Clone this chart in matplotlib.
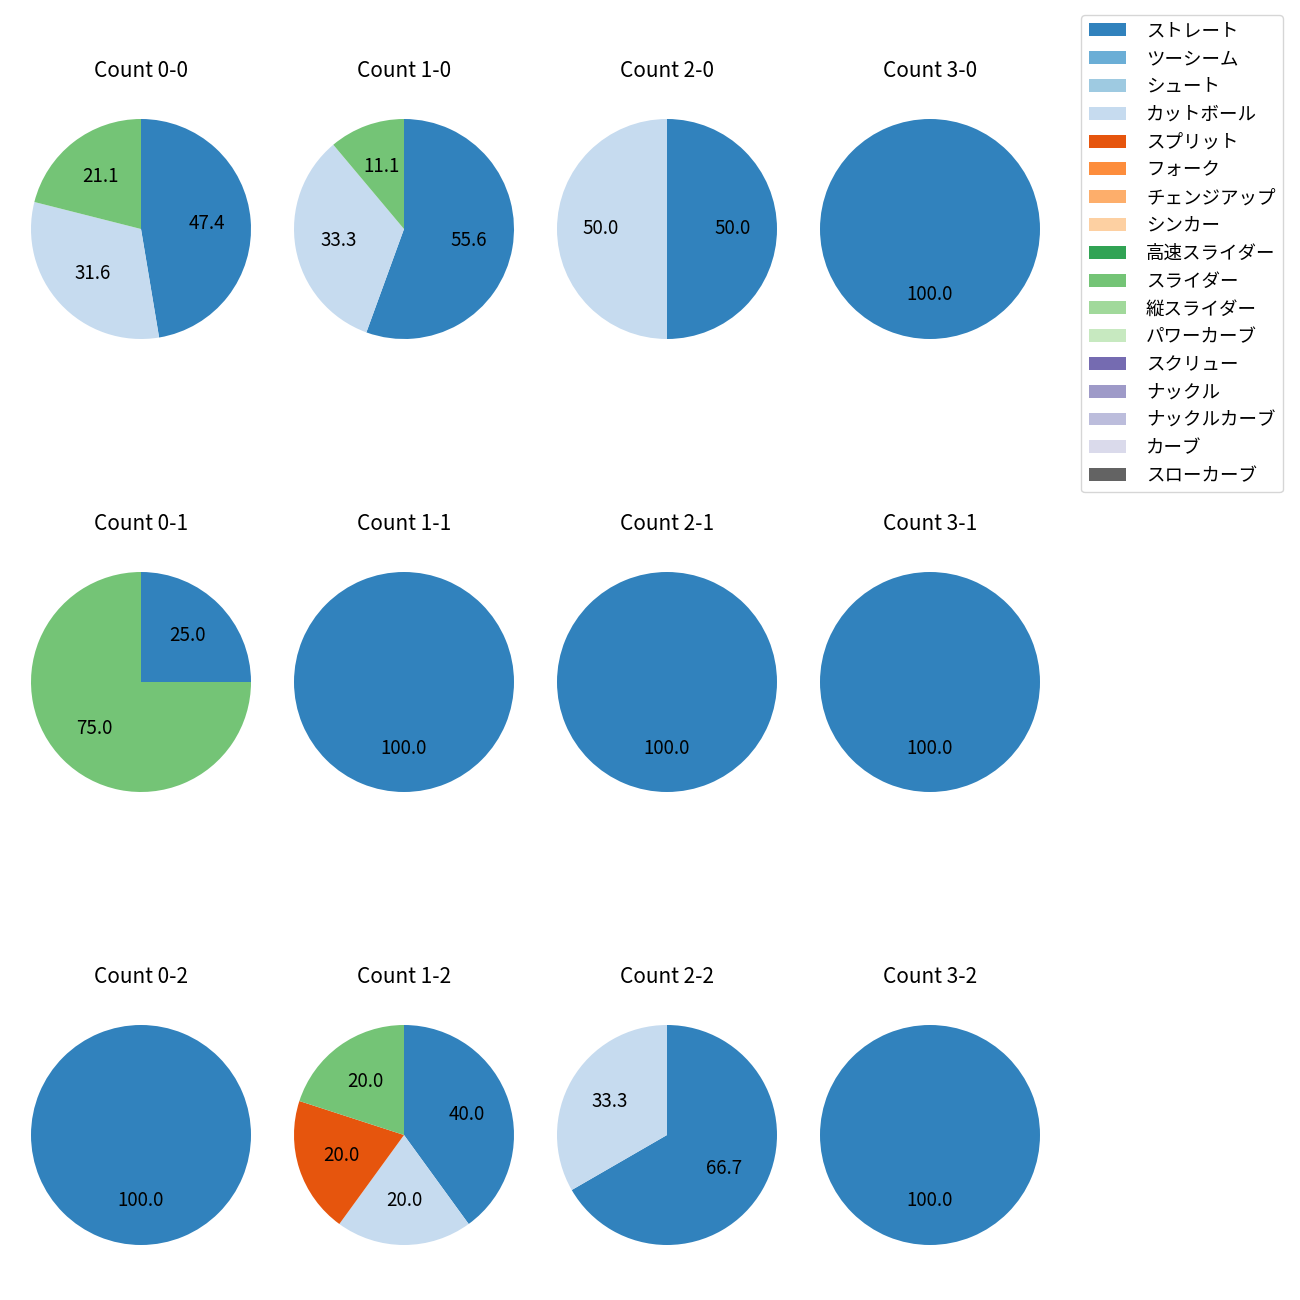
import matplotlib
matplotlib.use("Agg")
import matplotlib.pyplot as plt
from matplotlib.patches import Patch

plt.rcParams['font.family'] = ['Noto Sans CJK JP', 'DejaVu Sans']

pitch_types = ["ストレート", "ツーシーム", "シュート", "カットボール", "スプリット", "フォーク",
               "チェンジアップ", "シンカー", "高速スライダー", "スライダー", "縦スライダー",
               "パワーカーブ", "スクリュー", "ナックル", "ナックルカーブ", "カーブ", "スローカーブ"]
pitch_colors = ["#3182bd", "#6baed6", "#9ecae1", "#c6dbef", "#e6550d", "#fd8d3c",
                "#fdae6b", "#fdd0a2", "#31a354", "#74c476", "#a1d99b", "#c7e9c0",
                "#756bb1", "#9e9ac8", "#bcbddc", "#dadaeb", "#636363"]

# counts per pitch type, in pitch_types order
count_labels = [["0-0", "1-0", "2-0", "3-0"],
                ["0-1", "1-1", "2-1", "3-1"],
                ["0-2", "1-2", "2-2", "3-2"]]
c_0_0 = [9, 0, 0, 6, 0, 0, 0, 0, 0, 4, 0, 0, 0, 0, 0, 0, 0]
c_1_0 = [5, 0, 0, 3, 0, 0, 0, 0, 0, 1, 0, 0, 0, 0, 0, 0, 0]
c_2_0 = [1, 0, 0, 1, 0, 0, 0, 0, 0, 0, 0, 0, 0, 0, 0, 0, 0]
c_3_0 = [1, 0, 0, 0, 0, 0, 0, 0, 0, 0, 0, 0, 0, 0, 0, 0, 0]
c_0_1 = [1, 0, 0, 0, 0, 0, 0, 0, 0, 3, 0, 0, 0, 0, 0, 0, 0]
c_1_1 = [1, 0, 0, 0, 0, 0, 0, 0, 0, 0, 0, 0, 0, 0, 0, 0, 0]
c_2_1 = [1, 0, 0, 0, 0, 0, 0, 0, 0, 0, 0, 0, 0, 0, 0, 0, 0]
c_3_1 = [1, 0, 0, 0, 0, 0, 0, 0, 0, 0, 0, 0, 0, 0, 0, 0, 0]
c_0_2 = [1, 0, 0, 0, 0, 0, 0, 0, 0, 0, 0, 0, 0, 0, 0, 0, 0]
c_1_2 = [2, 0, 0, 1, 1, 0, 0, 0, 0, 1, 0, 0, 0, 0, 0, 0, 0]
c_2_2 = [2, 0, 0, 1, 0, 0, 0, 0, 0, 0, 0, 0, 0, 0, 0, 0, 0]
c_3_2 = [1, 0, 0, 0, 0, 0, 0, 0, 0, 0, 0, 0, 0, 0, 0, 0, 0]
count_values = [[c_0_0, c_1_0, c_2_0, c_3_0],
                [c_0_1, c_1_1, c_2_1, c_3_1],
                [c_0_2, c_1_2, c_2_2, c_3_2]]

W = H = 1300
fig = plt.figure(figsize=(13, 13), dpi=100)
side = 275
for i in range(3):
    for j in range(4):
        cx = 141 + 263 * j
        cy = 229 + 453 * i
        ax = fig.add_axes([(cx - side / 2) / W, 1 - (cy + side / 2) / H, side / W, side / H])
        vals = count_values[i][j]
        v = [x for x in vals if x > 0]
        c = [pitch_colors[k] for k, x in enumerate(vals) if x > 0]
        ax.pie(v, colors=c, startangle=90, counterclock=False, autopct='%.1f',
               textprops={'fontsize': 13.5})
        ax.set_title(f"Count {count_labels[i][j]}", fontsize=15, pad=10.5)

handles = [Patch(facecolor=col, label=lab) for col, lab in zip(pitch_colors, pitch_types)]
fig.legend(handles=handles, loc='upper right', bbox_to_anchor=(1283 / W, 1 - 15 / H),
           borderaxespad=0, fontsize=13.3, handletextpad=1.1, labelspacing=0.53)

fig.savefig("out.png", dpi=100)
